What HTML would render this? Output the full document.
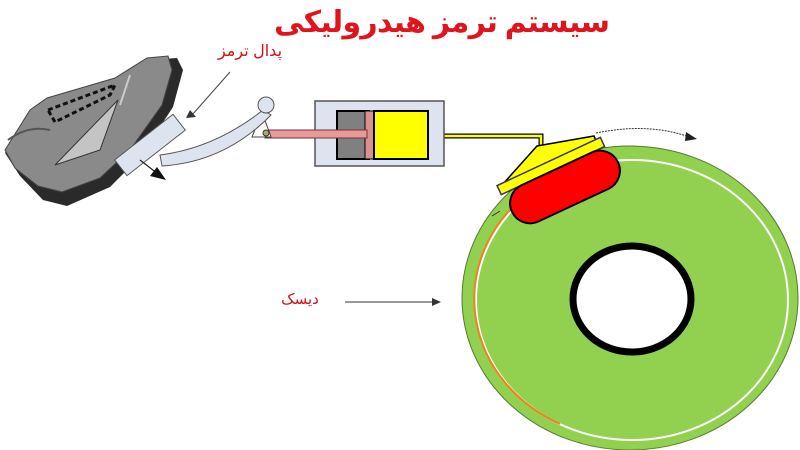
<!DOCTYPE html>
<html><head><meta charset="utf-8"><style>
html,body{margin:0;padding:0;background:#fff;width:800px;height:450px;overflow:hidden}
svg{display:block}
</style></head><body>
<svg width="800" height="450" viewBox="0 0 800 450" xmlns="http://www.w3.org/2000/svg">
<text x="442" y="32" text-anchor="middle" direction="rtl" font-family="'Liberation Sans','DejaVu Sans',sans-serif" font-weight="bold" font-size="30" fill="#e0141c" textLength="336">سیستم ترمز هیدرولیکی</text>
<text x="250" y="56" text-anchor="middle" direction="rtl" font-family="'Liberation Sans','DejaVu Sans',sans-serif" font-size="16" fill="#d01018">پدال ترمز</text>
<text x="300" y="304" text-anchor="middle" direction="rtl" font-family="'Liberation Sans','DejaVu Sans',sans-serif" font-size="15" fill="#d01018">دیسک</text>
<line x1="345" y1="302" x2="435" y2="302" stroke="#333" stroke-width="1"/>
<path d="M432,298 L441,302 L432,306Z" fill="#333"/>
<!-- shoe -->
<path d="M5,153 L32,110 L47,100 L117,80 L147,60 L177,58 L183,70 L173,107 L140,157 L110,187 L67,206 L43,200 L20,176Z" fill="#2a2a2a"/>
<path d="M5,150 L30,110 L47,98 L115,78 L147,58 L168,56 L172,70 L162,105 L130,150 L100,178 L62,192 L38,186 L15,168Z" fill="#8a8a8a" stroke="#444" stroke-width="1"/>
<path d="M55,165 L118,100 L100,150Z" fill="#c4c4c4" stroke="#333" stroke-width="1"/>
<path d="M130,75 L120,105" stroke="#ccc" stroke-width="2"/>
<path d="M48,110 L115,85 L110,95 L55,122Z" fill="none" stroke="#111" stroke-width="3" stroke-dasharray="5,3"/>
<path d="M8,140 Q28,125 50,130" fill="none" stroke="#555" stroke-width="2"/>
<!-- arrow to pedal -->
<line x1="230" y1="72" x2="192" y2="115" stroke="#444" stroke-width="1"/>
<path d="M186,118 L196,117 L190,110Z" fill="#333"/>
<!-- disc -->
<ellipse cx="630" cy="298" rx="168" ry="152" fill="#92d050" stroke="#557a30" stroke-width="1"/>
<ellipse cx="632" cy="300" rx="156" ry="140" fill="none" stroke="#fff" stroke-width="2"/>
<path d="M520,200 A156,140 0 0 0 560,424" fill="none" stroke="#f08020" stroke-width="2"/>
<ellipse cx="632" cy="299" rx="59" ry="53" fill="#fff" stroke="#000" stroke-width="7"/>
<path d="M596,133 Q650,122 692,138" fill="none" stroke="#333" stroke-width="1" stroke-dasharray="2,1"/>
<path d="M686,132 L697,139 L685,141Z" fill="#222"/>
<path d="M492,216 L500,211" stroke="#333"/>
<!-- caliper -->
<path d="M431,136 L541,136 L541,146" fill="none" stroke="#000" stroke-width="5"/>
<path d="M431,136 L541,136 L541,146" fill="none" stroke="#ff0" stroke-width="2.5"/>
<path d="M503,184 L537,146 L594,136 L600,150Z" fill="#ff0" stroke="#000" stroke-width="1.5"/>
<g transform="rotate(-25 565 187)">
<rect x="504" y="157" width="114" height="10" fill="#ff0" stroke="#336" stroke-width="1.5"/>
<rect x="506.5" y="167" width="117" height="40" rx="20" fill="#f00" stroke="#000" stroke-width="2"/>
</g>
<!-- master cylinder -->
<rect x="315" y="101" width="129" height="65" fill="#dde4f0" stroke="#555" stroke-width="1.5"/>
<rect x="337" y="111" width="32" height="48" fill="#808080" stroke="#000" stroke-width="2"/>
<rect x="365" y="111" width="10" height="48" fill="#d89090" stroke="#000" stroke-width="1"/>
<rect x="374" y="111" width="54" height="48" fill="#ff0" stroke="#000" stroke-width="2"/>
<rect x="265" y="130" width="102" height="8" fill="#e8999a" stroke="#733" stroke-width="1"/>
<!-- pedal -->
<path d="M262,112 L271,137 L252,137Z" fill="#fff" stroke="#444" stroke-width="1"/>
<path d="M160,155 Q215,148 263,110 L271,115 Q225,162 162,166Z" fill="#dde4f0" stroke="#555" stroke-width="1"/>
<circle cx="266" cy="105" r="8" fill="#dde4f0" stroke="#555"/>
<circle cx="266" cy="133" r="3" fill="#aa6" stroke="#333"/>
<g transform="rotate(-38 150 145)">
<rect x="113" y="135" width="74" height="20" fill="#dde4f0" stroke="#555" stroke-width="1"/>
</g>
<line x1="140" y1="160" x2="158" y2="174" stroke="#222" stroke-width="1.2"/>
<path d="M166,180 L150,176 L157,167Z" fill="#111"/>
</svg>
</body></html>
